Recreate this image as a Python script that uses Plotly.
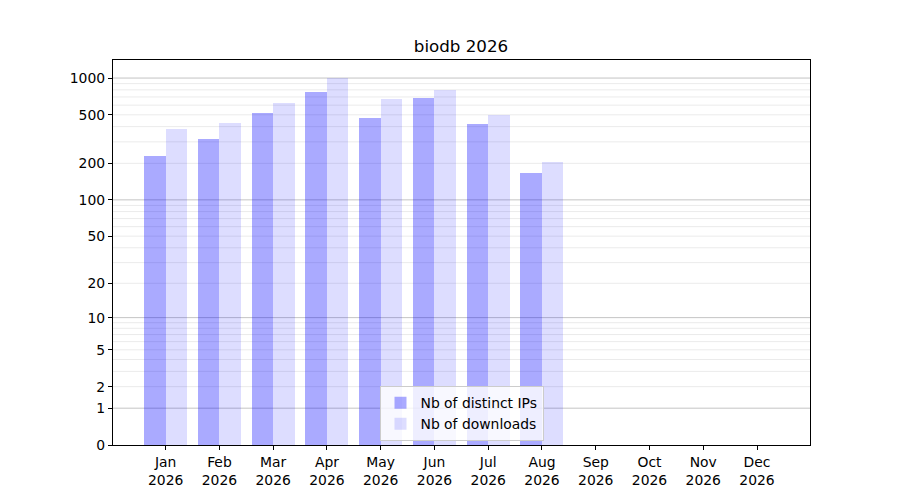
import numpy as np
import plotly.graph_objects as go

# ---- data ----
months = ["Jan", "Feb", "Mar", "Apr", "May", "Jun", "Jul", "Aug", "Sep", "Oct", "Nov", "Dec"]
year = "2026"
distinct_ips = [228, 314, 513, 762, 475, 693, 417, 168]
downloads = [379, 425, 619, 995, 680, 805, 494, 207]
ytick_values = [0, 1, 2, 5, 10, 20, 50, 100, 200, 500, 1000]
major_grid = [1, 10, 100, 1000]
minor_grid = [2, 3, 4, 5, 6, 7, 8, 9,
              20, 30, 40, 50, 60, 70, 80, 90,
              200, 300, 400, 500, 600, 700, 800, 900]


def tf(v):
    # y axis uses log10(1 + x) scale
    return np.log10(1 + np.asarray(v, dtype=float))


FONT = "DejaVu Sans"
idx_ips = list(range(len(distinct_ips)))
idx_dl = list(range(len(downloads)))

fig = go.Figure()
fig.add_trace(go.Bar(
    x=idx_ips, y=tf(distinct_ips), width=0.4, offset=-0.4,
    marker=dict(color="rgba(0,0,255,0.333)", line=dict(width=0)),
    name="Nb of distinct IPs", customdata=distinct_ips,
    hovertemplate="%{customdata}<extra></extra>",
))
fig.add_trace(go.Bar(
    x=idx_dl, y=tf(downloads), width=0.4, offset=0.0,
    marker=dict(color="rgba(0,0,255,0.133)", line=dict(width=0)),
    name="Nb of downloads", customdata=downloads,
    hovertemplate="%{customdata}<extra></extra>",
))

shapes = []
for v in minor_grid:
    shapes.append(dict(type="line", xref="paper", x0=0, x1=1, yref="y",
                       y0=float(tf(v)), y1=float(tf(v)), layer="below",
                       line=dict(color="#ebebeb", width=1)))
for v in major_grid:
    shapes.append(dict(type="line", xref="paper", x0=0, x1=1, yref="y",
                       y0=float(tf(v)), y1=float(tf(v)), layer="below",
                       line=dict(color="#c4c4c4", width=1)))

fig.update_layout(
    width=900, height=500,
    margin=dict(l=105, r=98, t=52, b=63),
    paper_bgcolor="white", plot_bgcolor="white",
    font=dict(family=FONT, size=13.9, color="black"),
    title=dict(text="biodb 2026", x=(461 - 8) / 900, xanchor="center", y=1 - 38 / 500,
               yanchor="middle", yref="container",
               font=dict(family=FONT, size=16.7, color="black")),
    barmode="overlay",
    bargap=0,
    shapes=shapes,
    showlegend=True,
    legend=dict(x=0.5, xanchor="center", y=0.01, yanchor="bottom",
                bgcolor="rgba(255,255,255,0.8)", bordercolor="#cccccc", borderwidth=1,
                font=dict(family=FONT, size=13.9, color="black"),
                tracegroupgap=2),
)

fig.update_xaxes(
    range=[-0.98, 11.986],
    tickmode="array", tickvals=list(range(len(months))),
    ticktext=[f"{m}<br>{year}" for m in months],
    showgrid=False, zeroline=False,
    showline=True, linecolor="black", linewidth=1.2, mirror=True,
    ticks="outside", ticklen=4, tickwidth=1, tickcolor="black",
    tickfont=dict(family=FONT, size=13.9, color="black"),
)
fig.update_yaxes(
    range=[0, 3.148],
    tickmode="array", tickvals=[float(t) for t in tf(ytick_values)],
    ticktext=[str(v) for v in ytick_values],
    showgrid=False, zeroline=False,
    showline=True, linecolor="black", linewidth=1.2, mirror=True,
    ticks="outside", ticklen=4, tickwidth=1, tickcolor="black",
    tickfont=dict(family=FONT, size=13.9, color="black"),
)

fig.write_html("out.html")
